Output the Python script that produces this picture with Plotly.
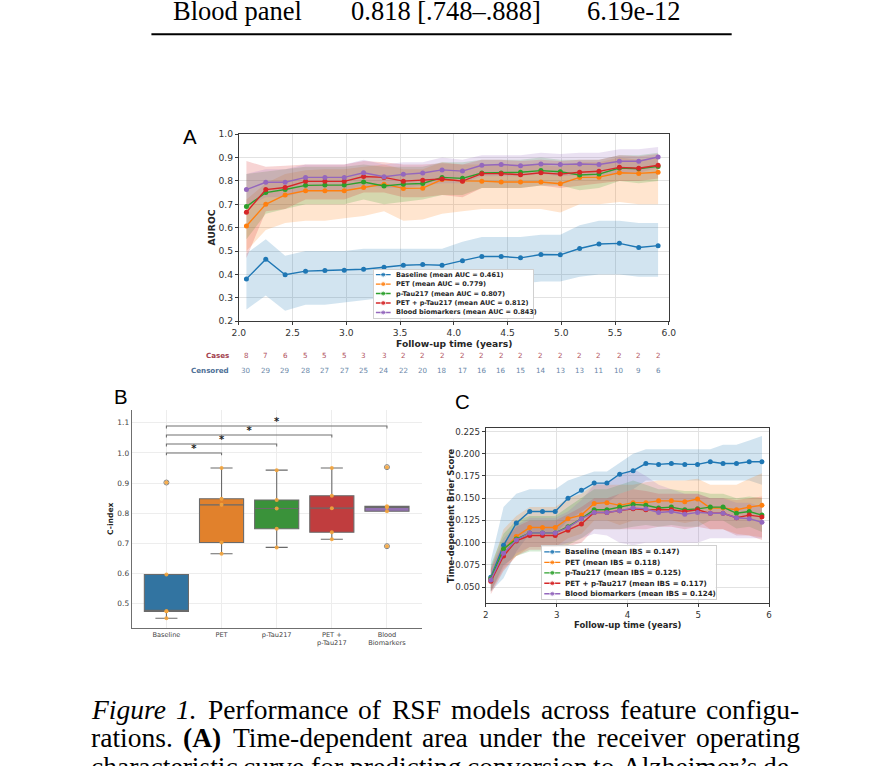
import plotly.graph_objects as go

W, H = 883, 766

# ---------------- data: panel A (time-dependent AUROC) ----------------
times = [2.07, 2.25, 2.43, 2.62, 2.80, 2.98, 3.16, 3.35, 3.53, 3.71, 3.89,
         4.08, 4.26, 4.44, 4.62, 4.81, 4.99, 5.17, 5.35, 5.54, 5.72, 5.90]

model_names = ["Baseline", "PET", "p-Tau217", "PET + p-Tau217", "Blood biomarkers"]
model_colors = ["#1f77b4", "#ff7f0e", "#2ca02c", "#d62728", "#9467bd"]
mean_auc = [0.461, 0.779, 0.807, 0.812, 0.843]
mean_ibs = [0.147, 0.118, 0.125, 0.117, 0.124]

auc_baseline = [0.381, 0.465, 0.399, 0.414, 0.417, 0.418, 0.422, 0.431, 0.439, 0.442, 0.439,
                0.459, 0.477, 0.477, 0.471, 0.485, 0.484, 0.511, 0.530, 0.533, 0.515, 0.523]
auc_baseline_lo = [0.25, 0.31, 0.245, 0.27, 0.27, 0.28, 0.29, 0.30, 0.31, 0.31, 0.32,
                   0.34, 0.36, 0.36, 0.36, 0.37, 0.37, 0.39, 0.40, 0.40, 0.39, 0.39]
auc_baseline_hi = [0.49, 0.55, 0.48, 0.50, 0.50, 0.50, 0.51, 0.51, 0.51, 0.51, 0.51,
                   0.54, 0.56, 0.56, 0.56, 0.57, 0.57, 0.61, 0.63, 0.63, 0.62, 0.62]

auc_pet = [0.607, 0.700, 0.740, 0.758, 0.758, 0.758, 0.772, 0.786, 0.768, 0.769, 0.806,
           0.800, 0.799, 0.795, 0.795, 0.795, 0.788, 0.815, 0.816, 0.835, 0.832, 0.837]
auc_pet_lo = [0.50, 0.59, 0.62, 0.63, 0.63, 0.64, 0.65, 0.67, 0.63, 0.635, 0.66,
              0.67, 0.68, 0.68, 0.68, 0.68, 0.665, 0.70, 0.70, 0.71, 0.70, 0.70]
auc_pet_hi = [0.72, 0.79, 0.83, 0.845, 0.85, 0.85, 0.86, 0.87, 0.85, 0.85, 0.88,
              0.87, 0.87, 0.87, 0.87, 0.87, 0.86, 0.88, 0.88, 0.90, 0.89, 0.90]

auc_ptau = [0.690, 0.750, 0.763, 0.781, 0.782, 0.782, 0.795, 0.778, 0.786, 0.789, 0.815,
            0.811, 0.834, 0.834, 0.837, 0.844, 0.839, 0.825, 0.829, 0.855, 0.852, 0.862]
auc_ptau_lo = [0.55, 0.66, 0.68, 0.70, 0.70, 0.70, 0.72, 0.70, 0.71, 0.72, 0.74,
               0.74, 0.77, 0.77, 0.77, 0.78, 0.78, 0.76, 0.77, 0.80, 0.79, 0.80]
auc_ptau_hi = [0.83, 0.84, 0.85, 0.86, 0.86, 0.86, 0.87, 0.86, 0.86, 0.86, 0.88,
               0.88, 0.89, 0.89, 0.89, 0.90, 0.89, 0.89, 0.89, 0.91, 0.91, 0.92]

auc_petptau = [0.666, 0.763, 0.772, 0.798, 0.798, 0.798, 0.819, 0.815, 0.799, 0.803, 0.808,
               0.799, 0.831, 0.831, 0.826, 0.835, 0.829, 0.837, 0.841, 0.858, 0.854, 0.867]
auc_petptau_lo = [0.47, 0.67, 0.68, 0.72, 0.72, 0.72, 0.75, 0.75, 0.73, 0.73, 0.74,
                  0.73, 0.77, 0.77, 0.77, 0.78, 0.77, 0.78, 0.79, 0.80, 0.80, 0.81]
auc_petptau_hi = [0.885, 0.86, 0.865, 0.87, 0.87, 0.87, 0.885, 0.88, 0.87, 0.87, 0.875,
                  0.87, 0.89, 0.89, 0.885, 0.89, 0.885, 0.89, 0.89, 0.91, 0.905, 0.915]

auc_blood = [0.763, 0.794, 0.794, 0.815, 0.815, 0.815, 0.835, 0.818, 0.828, 0.834, 0.847,
             0.842, 0.867, 0.870, 0.865, 0.872, 0.870, 0.872, 0.870, 0.884, 0.884, 0.902]
auc_blood_lo = [0.69, 0.73, 0.73, 0.76, 0.76, 0.76, 0.78, 0.77, 0.77, 0.78, 0.79,
                0.79, 0.82, 0.82, 0.82, 0.83, 0.82, 0.825, 0.82, 0.835, 0.835, 0.855]
auc_blood_hi = [0.83, 0.85, 0.85, 0.87, 0.87, 0.87, 0.89, 0.87, 0.88, 0.88, 0.90,
                0.89, 0.91, 0.91, 0.91, 0.92, 0.915, 0.92, 0.92, 0.935, 0.935, 0.945]

at_risk_cases = [8, 7, 6, 5, 5, 5, 3, 3, 2, 2, 2, 2, 2, 2, 2, 2, 2, 2, 2, 2, 2, 2]
at_risk_censored = [30, 29, 29, 28, 27, 27, 25, 24, 22, 20, 18, 17, 16, 16, 15, 14, 13, 13, 11, 10, 9, 6]

# ---------------- data: panel B (C-index per fold) ----------------
cindex_groups = ["Baseline", "PET", "p-Tau217", "PET +<br>p-Tau217", "Blood<br>Biomarkers"]
cindex_baseline = [0.902, 0.597, 0.475, 0.475, 0.452]
cindex_pet = [0.950, 0.848, 0.828, 0.703, 0.666]
cindex_ptau = [0.943, 0.844, 0.816, 0.749, 0.687]
cindex_petptau = [0.950, 0.858, 0.817, 0.737, 0.714]
cindex_blood = [0.953, 0.823, 0.820, 0.807, 0.691]
box_colors = ["#3274A1", "#E1812C", "#3A923A", "#C03D3E", "#9372B2"]
sig_pairs = [(0, 1), (0, 2), (0, 3), (0, 4)]
sig_marks = ["*", "*", "*", "*"]

# ---------------- data: panel C (time-dependent Brier score) ----------------
bs_baseline = [0.061, 0.097, 0.122, 0.135, 0.135, 0.135, 0.150, 0.159, 0.167, 0.167, 0.177,
               0.181, 0.189, 0.188, 0.189, 0.188, 0.188, 0.191, 0.189, 0.189, 0.191, 0.191]
bs_baseline_lo = [0.045, 0.06, 0.09, 0.11, 0.11, 0.11, 0.125, 0.135, 0.145, 0.145, 0.155,
                  0.16, 0.17, 0.17, 0.17, 0.17, 0.17, 0.17, 0.17, 0.17, 0.17, 0.165]
bs_baseline_hi = [0.08, 0.14, 0.155, 0.16, 0.16, 0.16, 0.17, 0.175, 0.18, 0.18, 0.19,
                  0.20, 0.205, 0.205, 0.205, 0.205, 0.205, 0.205, 0.21, 0.21, 0.215, 0.22]

bs_pet = [0.059, 0.092, 0.107, 0.117, 0.117, 0.117, 0.127, 0.131, 0.144, 0.145, 0.142,
          0.145, 0.145, 0.147, 0.147, 0.146, 0.149, 0.139, 0.139, 0.137, 0.140, 0.142]
bs_pet_lo = [0.045, 0.07, 0.085, 0.095, 0.095, 0.095, 0.105, 0.11, 0.125, 0.125, 0.12,
             0.125, 0.125, 0.125, 0.125, 0.122, 0.125, 0.115, 0.115, 0.11, 0.108, 0.106]
bs_pet_hi = [0.07, 0.115, 0.13, 0.14, 0.14, 0.14, 0.15, 0.155, 0.165, 0.165, 0.165,
             0.165, 0.168, 0.17, 0.17, 0.17, 0.172, 0.165, 0.165, 0.165, 0.172, 0.178]

bs_ptau = [0.059, 0.093, 0.104, 0.111, 0.111, 0.111, 0.118, 0.127, 0.137, 0.137, 0.140,
           0.143, 0.142, 0.139, 0.140, 0.137, 0.138, 0.140, 0.140, 0.133, 0.135, 0.131]
bs_ptau_lo = [0.045, 0.075, 0.085, 0.09, 0.09, 0.09, 0.097, 0.105, 0.115, 0.115, 0.115,
              0.118, 0.12, 0.118, 0.12, 0.118, 0.118, 0.125, 0.125, 0.116, 0.118, 0.112]
bs_ptau_hi = [0.075, 0.11, 0.125, 0.13, 0.13, 0.13, 0.14, 0.15, 0.16, 0.16, 0.165,
              0.17, 0.165, 0.16, 0.16, 0.158, 0.158, 0.155, 0.155, 0.15, 0.152, 0.15]

bs_petptau = [0.0565, 0.085, 0.102, 0.108, 0.108, 0.108, 0.114, 0.121, 0.134, 0.134, 0.136,
              0.138, 0.137, 0.137, 0.137, 0.135, 0.137, 0.133, 0.133, 0.128, 0.131, 0.129]
bs_petptau_lo = [0.042, 0.068, 0.085, 0.092, 0.092, 0.092, 0.096, 0.10, 0.115, 0.115, 0.115,
                 0.115, 0.115, 0.118, 0.118, 0.115, 0.118, 0.115, 0.115, 0.108, 0.108, 0.103]
bs_petptau_hi = [0.07, 0.10, 0.118, 0.125, 0.125, 0.125, 0.132, 0.14, 0.15, 0.15, 0.155,
                 0.16, 0.158, 0.155, 0.155, 0.155, 0.155, 0.15, 0.15, 0.148, 0.15, 0.152]

bs_blood = [0.058, 0.088, 0.103, 0.111, 0.111, 0.111, 0.117, 0.127, 0.134, 0.134, 0.136,
            0.139, 0.138, 0.134, 0.135, 0.132, 0.134, 0.133, 0.133, 0.128, 0.127, 0.123]
bs_blood_lo = [0.045, 0.072, 0.088, 0.095, 0.095, 0.095, 0.10, 0.105, 0.11, 0.108, 0.10,
               0.097, 0.10, 0.10, 0.10, 0.10, 0.10, 0.105, 0.105, 0.105, 0.105, 0.105]
bs_blood_hi = [0.072, 0.105, 0.12, 0.128, 0.128, 0.128, 0.135, 0.148, 0.165, 0.168, 0.175,
               0.183, 0.175, 0.165, 0.16, 0.155, 0.155, 0.15, 0.15, 0.145, 0.145, 0.14]

# ---------------- page text ----------------
table_cells = ["Blood panel", "0.818 [.748\u2013.888]", "6.19e-12"]
caption_lines = [
    [("Figure", "i"), ("1.", "i"), ("Performance", ""), ("of", ""), ("RSF", ""), ("models", ""),
     ("across", ""), ("feature", ""), ("configu-", "")],
    [("rations.", ""), ("(A)", "b"), ("Time-dependent", ""), ("area", ""), ("under", ""),
     ("the", ""), ("receiver", ""), ("operating", "")],
    [("characteristic", ""), ("curve", ""), ("for", ""), ("predicting", ""), ("conversion", ""),
     ("to", ""), ("Alzheimer\u2019s", ""), ("de-", "")],
]

# ---------------- helpers ----------------
# The captured page comes out slightly shrunk (about 0.982 x 0.980, offset ~7.9 px);
# positions below are given in target-picture pixels and mapped back to figure space.
SX, SY, OX, OY = 0.982, 0.980, 7.9, 7.9
FS = 1 / 0.981


def fx(p):
    return ((p - OX) / SX) / W


def fy(p):
    return 1 - ((p - OY) / SY) / H


def rgba(hx, a):
    hx = hx.lstrip("#")
    r, g, b = int(hx[0:2], 16), int(hx[2:4], 16), int(hx[4:6], 16)
    return f"rgba({r},{g},{b},{a})"


# Times / Liberation Serif advance widths (per 1000 em) for justification
TW = {" ": 250, "(": 333, ")": 333, "-": 333, ".": 250, "\u2019": 333, "1": 500,
      "A": 722, "F": 556, "P": 556, "R": 667, "S": 556, "T": 611, "a": 444, "c": 444,
      "d": 500, "e": 444, "f": 333, "g": 500, "h": 500, "i": 278, "l": 278, "m": 778,
      "n": 500, "o": 500, "p": 500, "r": 333, "s": 389, "t": 278, "u": 500, "v": 500,
      "z": 444}
TW_ITAL = {"F": 611, "r": 389}


def word_width(word, style, size):
    tot = 0
    for ch in word:
        w = TW.get(ch, 500)
        if style == "i":
            w = TW_ITAL.get(ch, w)
        tot += w
    return tot / 1000 * size


FONT_PLOT = "DejaVu Sans"
FONT_PAGE = "Liberation Serif"
TXT = "#262626"

fig = go.Figure()
annotations = []
shapes = []


def page_ann(text, x, y, size, family=FONT_PLOT, color=TXT, xanchor="center", angle=0):
    annotations.append(dict(x=fx(x), y=fy(y), xref="paper", yref="paper", text=text,
                            xanchor=xanchor, yanchor="middle", textangle=angle, showarrow=False,
                            font=dict(family=family, size=size * FS, color=color)))


# ================= Panel A =================
auc_series = [auc_baseline, auc_pet, auc_ptau, auc_petptau, auc_blood]
auc_lo = [auc_baseline_lo, auc_pet_lo, auc_ptau_lo, auc_petptau_lo, auc_blood_lo]
auc_hi = [auc_baseline_hi, auc_pet_hi, auc_ptau_hi, auc_petptau_hi, auc_blood_hi]

for vals, lo, hi, col in zip(auc_series, auc_lo, auc_hi, model_colors):
    fig.add_trace(go.Scatter(x=times + times[::-1], y=hi + lo[::-1], fill="toself",
                             fillcolor=rgba(col, 0.2), line=dict(width=0), mode="lines",
                             hoverinfo="skip", showlegend=False, xaxis="x", yaxis="y"))
for vals, col, nm in zip(auc_series, model_colors, model_names):
    fig.add_trace(go.Scatter(x=times, y=vals, mode="lines+markers", name=nm,
                             line=dict(color=col, width=1.4), marker=dict(color=col, size=5),
                             showlegend=False, xaxis="x", yaxis="y"))

# risk table under panel A
for t, c, cz in zip(times, at_risk_cases, at_risk_censored):
    annotations.append(dict(x=t, xref="x", y=fy(355), yref="paper", text=str(c), showarrow=False,
                            xanchor="center", yanchor="middle",
                            font=dict(family=FONT_PLOT, size=7 * FS, color="#b0505c")))
    annotations.append(dict(x=t, xref="x", y=fy(370), yref="paper", text=str(cz), showarrow=False,
                            xanchor="center", yanchor="middle",
                            font=dict(family=FONT_PLOT, size=7 * FS, color="#6a87a8")))
page_ann("<b>Cases</b>", 231, 355, 7, color="#a3414e", xanchor="right")
page_ann("<b>Censored</b>", 231, 370, 7, color="#4d6f96", xanchor="right")

# legend for panel A (inset subplot x4/y4, pixel units)
for i, (col, nm, m) in enumerate(zip(model_colors, model_names, mean_auc)):
    ry = 5 + i * 9.4
    fig.add_trace(go.Scatter(x=[2, 9.3, 16.7], y=[ry, ry, ry], mode="lines+markers",
                             line=dict(color=col, width=1.4),
                             marker=dict(color=col, size=[0, 5, 0]),
                             showlegend=False, hoverinfo="skip", xaxis="x4", yaxis="y4"))
    annotations.append(dict(x=20.3, y=ry, xref="x4", yref="y4", xanchor="left", yanchor="middle",
                            text=f"<b>{nm} (mean AUC = {m:.3f})</b>", showarrow=False,
                            font=dict(family=FONT_PLOT, size=6.4 * FS, color=TXT)))

# ================= Panel B =================
cindex_all = [cindex_baseline, cindex_pet, cindex_ptau, cindex_petptau, cindex_blood]
for i, (vals, col) in enumerate(zip(cindex_all, box_colors)):
    fig.add_trace(go.Box(x=[i] * len(vals), y=vals, width=0.8, fillcolor=col,
                         line=dict(color="#6a6a6a", width=1.1), whiskerwidth=0.5,
                         boxpoints="outliers", quartilemethod="inclusive",
                         marker=dict(symbol="circle-open", color="#808080", size=5,
                                     line=dict(width=1, color="#808080")),
                         showlegend=False, hoverinfo="skip", xaxis="x2", yaxis="y2"))
for i, vals in enumerate(cindex_all):
    fig.add_trace(go.Scatter(x=[i] * len(vals), y=vals, mode="markers",
                             marker=dict(color="rgba(245,165,60,0.9)", size=4),
                             showlegend=False, hoverinfo="skip", xaxis="x2", yaxis="y2"))
for k, ((a, b), mk) in enumerate(zip(sig_pairs, sig_marks)):
    h = 1.0 + k * 0.0297
    fig.add_trace(go.Scatter(x=[a, a, b, b], y=[h - 0.008, h, h, h - 0.008], mode="lines",
                             line=dict(color="#707070", width=1.1), showlegend=False,
                             hoverinfo="skip", xaxis="x2", yaxis="y2"))
    fig.add_trace(go.Scatter(x=[(a + b) / 2], y=[h + 0.012], mode="text", text=[f"<b>{mk}</b>"],
                             textfont=dict(family=FONT_PLOT, size=10, color="#1e1e1e"),
                             showlegend=False, hoverinfo="skip", xaxis="x2", yaxis="y2"))

# ================= Panel C =================
bs_series = [bs_baseline, bs_pet, bs_ptau, bs_petptau, bs_blood]
bs_lo = [bs_baseline_lo, bs_pet_lo, bs_ptau_lo, bs_petptau_lo, bs_blood_lo]
bs_hi = [bs_baseline_hi, bs_pet_hi, bs_ptau_hi, bs_petptau_hi, bs_blood_hi]
for vals, lo, hi, col in zip(bs_series, bs_lo, bs_hi, model_colors):
    fig.add_trace(go.Scatter(x=times + times[::-1], y=hi + lo[::-1], fill="toself",
                             fillcolor=rgba(col, 0.2), line=dict(width=0), mode="lines",
                             hoverinfo="skip", showlegend=False, xaxis="x3", yaxis="y3"))
for vals, col, nm in zip(bs_series, model_colors, model_names):
    fig.add_trace(go.Scatter(x=times, y=vals, mode="lines+markers", name=nm,
                             line=dict(color=col, width=1.4), marker=dict(color=col, size=5),
                             showlegend=False, xaxis="x3", yaxis="y3"))

for i, (col, nm, m) in enumerate(zip(model_colors, model_names, mean_ibs)):
    ry = 5.7 + i * 10.4
    fig.add_trace(go.Scatter(x=[2.3, 10.3, 18.3], y=[ry, ry, ry], mode="lines+markers",
                             line=dict(color=col, width=1.4),
                             marker=dict(color=col, size=[0, 5, 0]),
                             showlegend=False, hoverinfo="skip", xaxis="x5", yaxis="y5"))
    annotations.append(dict(x=21, y=ry, xref="x5", yref="y5", xanchor="left", yanchor="middle",
                            text=f"<b>{nm} (mean IBS = {m:.3f})</b>", showarrow=False,
                            font=dict(family=FONT_PLOT, size=7 * FS, color=TXT)))

# ================= axis titles & panel letters =================
page_ann("<b>AUROC</b>", 211.5, 228, 9, angle=-90)
page_ann("<b>Follow-up time (years)</b>", 453.8, 343.5, 9)
page_ann("<b>C-index</b>", 110.7, 518, 7.5, angle=-90)
page_ann("<b>Time-dependent Brier Score</b>", 451, 515, 8.3, angle=-90)
page_ann("<b>Follow-up time (years)</b>", 627.5, 623.5, 8.3)

for letter, lx, ly in [("A", 190.5, 138.3), ("B", 122, 397), ("C", 462, 402)]:
    page_ann(letter, lx, ly, 20, family="Liberation Sans", color="black")

# ================= page text: table row + caption =================
for txt, lx in zip(table_cells, [171.5, 349, 585]):
    page_ann(txt, lx, 12.4, 26, family=FONT_PAGE, color="black", xanchor="left")
shapes.append(dict(type="line", xref="paper", yref="paper", x0=fx(152), x1=fx(731),
                   y0=fy(36), y1=fy(36), line=dict(color="black", width=2)))

CAP_SIZE = 27
CAP_LEFT, CAP_RIGHT = 90, 795
for li, words in enumerate(caption_lines):
    widths = [word_width(w, s, CAP_SIZE) for w, s in words]
    gap = (CAP_RIGHT - CAP_LEFT - sum(widths)) / (len(words) - 1)
    xpos = CAP_LEFT
    yc = 707.6 + li * 28
    for (w, s), wd in zip(words, widths):
        txt = f"<i>{w}</i>" if s == "i" else (f"<b>{w}</b>" if s == "b" else w)
        page_ann(txt, xpos, yc, CAP_SIZE, family=FONT_PAGE, color="black", xanchor="left")
        xpos += wd + gap

# ================= layout =================
def tfont(size):
    return dict(family=FONT_PLOT, size=size * FS, color="#333333")


frame = dict(showline=True, mirror=True, linecolor="#3a3a3a", linewidth=1, ticks="outside",
             ticklen=3, tickcolor="#3a3a3a", gridcolor="#e2e2e2", gridwidth=1, zeroline=False)
legend_ax = dict(showline=True, mirror=True, linecolor="#d0d0d0", linewidth=1, showgrid=False,
                 zeroline=False, showticklabels=False, ticks="", fixedrange=True)

fig.update_layout(
    width=W, height=H, margin=dict(l=0, r=0, t=0, b=0),
    paper_bgcolor="white", plot_bgcolor="white", showlegend=False,
    xaxis=dict(domain=[fx(239.3), fx(668.3)], range=[2.0, 6.0], tick0=2.0, dtick=0.5,
               tickformat=".1f", anchor="y", tickfont=tfont(9), **frame),
    yaxis=dict(domain=[fy(321.3), fy(135.3)], range=[0.2, 1.0], tick0=0.2, dtick=0.1,
               tickformat=".1f", anchor="x", tickfont=tfont(9), **frame),
    xaxis2=dict(domain=[fx(132.3), fx(421.7)], range=[-0.63, 4.63], tickvals=list(range(5)),
                ticktext=cindex_groups, anchor="y2", showline=True, linecolor="#6f6f6f",
                linewidth=1, gridcolor="#ededed", zeroline=False, ticks="",
                tickfont=dict(family=FONT_PLOT, size=6.5 * FS, color="#444444")),
    yaxis2=dict(domain=[fy(626), fy(410)], range=[0.421, 1.141], tickvals=[0.5, 0.6, 0.7, 0.8, 0.9, 1.0, 1.1],
                tickformat=".1f", anchor="x2", showline=True, linecolor="#6f6f6f", linewidth=1,
                gridcolor="#ededed", zeroline=False, ticks="",
                tickfont=dict(family=FONT_PLOT, size=7.3 * FS, color="#444444")),
    xaxis3=dict(domain=[fx(485.7), fx(768.3)], range=[2, 6], tick0=2, dtick=1, anchor="y3",
                tickfont=tfont(8.5), **frame),
    yaxis3=dict(domain=[fy(601.7), fy(427.7)], range=[0.0319, 0.2287], tick0=0.05, dtick=0.025,
                tickformat=".3f", anchor="x3", tickfont=tfont(8.5), **frame),
    xaxis4=dict(domain=[fx(374), fx(533)], range=[0, 159], anchor="y4", **legend_ax),
    yaxis4=dict(domain=[fy(318), fy(270)], range=[48, 0], anchor="x4", **legend_ax),
    xaxis5=dict(domain=[fx(541.7), fx(715)], range=[0, 173.3], anchor="y5", **legend_ax),
    yaxis5=dict(domain=[fy(598), fy(545)], range=[53, 0], anchor="x5", **legend_ax),
    annotations=annotations, shapes=shapes,
)

page_css = ("document.documentElement.style.margin='0';document.documentElement.style.padding='0';"
            "document.documentElement.style.overflow='hidden';"
            "document.body.style.margin='0';document.body.style.padding='0';"
            "document.body.style.overflow='hidden';")
fig.write_html("out.html", config={"displayModeBar": False}, post_script=page_css)
